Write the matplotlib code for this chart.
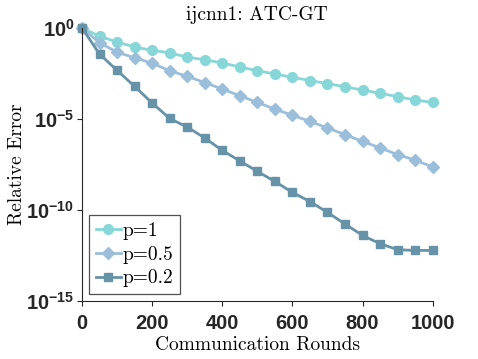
import matplotlib
matplotlib.use("Agg")
import matplotlib.pyplot as plt
import numpy as np

rounds = [0, 50, 100, 150, 200, 250, 300, 350, 400, 450, 500,
          550, 600, 650, 700, 750, 800, 850, 900, 950, 1000]

err_p1 = [1.0, 0.35, 0.17, 0.091, 0.059, 0.043, 0.025, 0.018, 0.012, 7.2e-3, 4.5e-3,
          3.0e-3, 1.95e-3, 1.3e-3, 8.7e-4, 5.9e-4, 3.9e-4, 2.6e-4, 1.7e-4, 1.1e-4, 8.1e-5]
err_p05 = [1.0, 0.155, 0.047, 0.023, 0.0117, 4.5e-3, 2.2e-3, 1.0e-3, 4.4e-4, 1.9e-4, 8.1e-5,
           3.5e-5, 1.6e-5, 7.4e-6, 3.2e-6, 1.4e-6, 5.9e-7, 2.6e-7, 1.1e-7, 5.5e-8, 2.3e-8]
err_p02 = [1.0, 0.037, 4.7e-3, 6.2e-4, 7.6e-5, 1.07e-5, 3.6e-6, 9.1e-7, 1.86e-7, 5.0e-8, 1.32e-8,
           3.7e-9, 9.3e-10, 2.9e-10, 7.4e-11, 1.7e-11, 4.0e-12, 1.4e-12, 6.6e-13, 6.0e-13, 6.0e-13]

labels = ["p=1", "p=0.5", "p=0.2"]
colors = ["#88d7d8", "#9bbfda", "#6693a7"]
markers = ["o", "D", "s"]
msizes = [7.0, 6.0, 6.0]

xticks = [0, 200, 400, 600, 800, 1000]
yticks = [1e-15, 1e-10, 1e-5, 1e0]
ytick_labels = [r"$\mathbf{10^{-15}}$", r"$\mathbf{10^{-10}}$", r"$\mathbf{10^{-5}}$", r"$\mathbf{10^{0}}$"]

plt.rcParams['mathtext.fontset'] = 'custom'
plt.rcParams['mathtext.bf'] = 'Liberation Sans:bold'
plt.rcParams['mathtext.rm'] = 'Liberation Sans'

fig = plt.figure(figsize=(4.78, 3.59), dpi=100)
ax = fig.add_axes([82/478, 1 - 301/359, (432.7 - 82)/478, (301 - 28)/359])

for ys, lab, c, m, ms in zip([err_p1, err_p05, err_p02], labels, colors, markers, msizes):
    ax.plot(rounds, ys, color=c, marker=m, markersize=ms, linewidth=2.0,
            markerfacecolor=c, markeredgecolor=c, label=lab, clip_on=False)

ax.set_yscale('log')
ax.set_xlim(0, 1000)
ax.set_ylim(1e-15, 1e0)
ax.set_xticks(xticks)
ax.set_xticklabels([str(t) for t in xticks], fontfamily='Liberation Sans',
                   fontweight='bold', fontsize=14.5)
ax.set_yticks(yticks)
ax.set_yticklabels(ytick_labels, fontsize=14.5)
ax.minorticks_off()
ax.tick_params(direction='out', length=3.5, width=0.8, colors='#262626')
ax.tick_params(axis='x', pad=6)
ax.tick_params(axis='y', pad=2)
for s in ['top', 'right']:
    ax.spines[s].set_visible(False)
for s in ['left', 'bottom']:
    ax.spines[s].set_color('#262626')
    ax.spines[s].set_linewidth(0.8)

ax.set_title("ijcnn1: ATC-GT", fontfamily='cmr10', fontsize=14, pad=6)
ax.set_xlabel("Communication Rounds", fontfamily='cmr10', fontsize=14, labelpad=2)
ax.set_ylabel("Relative Error", fontfamily='cmr10', fontsize=14, labelpad=0)

leg = ax.legend(loc='lower left', prop={'family': 'cmr10', 'size': 14},
                frameon=True, fancybox=False, handlelength=1.3, handletextpad=0.1,
                borderpad=0.35, labelspacing=0.3, borderaxespad=0.35)
leg.get_frame().set_edgecolor('#262626')
leg.get_frame().set_linewidth(0.9)

fig.savefig("out.png", dpi=100)
